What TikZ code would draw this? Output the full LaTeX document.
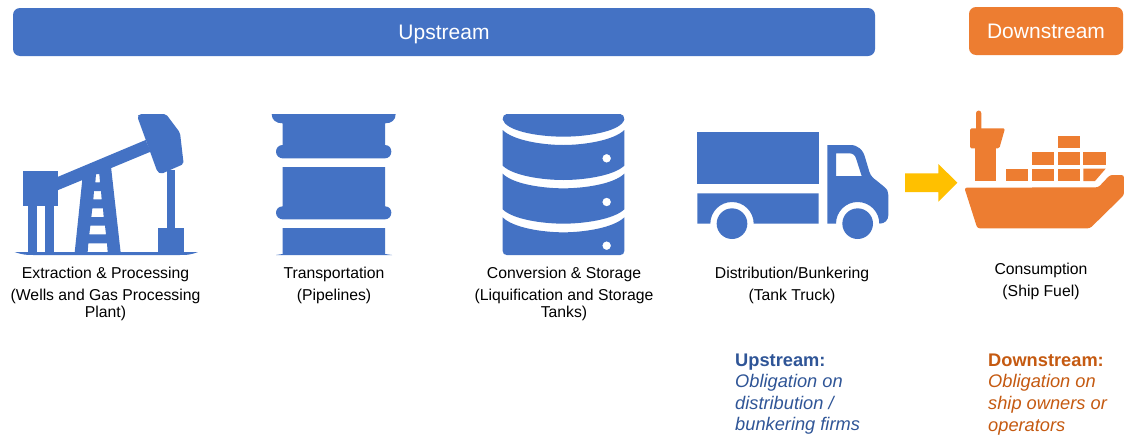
\documentclass[tikz,border=0pt]{standalone}
\usepackage{fontspec}
\setmainfont{Liberation Sans}
\definecolor{iblue}{HTML}{4472C4}
\definecolor{iorange}{HTML}{ED7D31}
\definecolor{iyellow}{HTML}{FFC000}
\definecolor{dblue}{HTML}{2F5597}
\definecolor{dorange}{HTML}{C55A11}
\tikzset{
  header/.style={rounded corners=7pt,text=white,font=\fontsize{21}{24}\selectfont,inner sep=0pt},
  lbl/.style={anchor=base,text=black,font=\fontsize{15.75}{18}\selectfont,inner sep=0pt},
  note/.style={anchor=base west,font=\fontsize{18.25}{21}\selectfont\itshape,inner sep=0pt},
  notehead/.style={anchor=base west,font=\fontsize{18.25}{21}\selectfont\bfseries,inner sep=0pt},
  icon/.style={x=0.33333pt,y=-0.33333pt},
}
\begin{document}
\begin{tikzpicture}[x=1pt,y=-1pt]
\useasboundingbox (0,0) rectangle (1124,434);
\fill[white] (0,0) rectangle (1124,434);
% headers
\path[header,fill=iblue] (13,8) rectangle (875,56);
\node[text=white,font=\fontsize{21}{24}\selectfont,inner sep=0pt,anchor=base] (up) at (444,39) {Upstream};
\path[header,fill=iorange] (969,7) rectangle (1123,55);
\node[text=white,font=\fontsize{21}{24}\selectfont,inner sep=0pt,anchor=base] (down) at (1046,38) {Downstream};
% pump jack
\begin{scope}[shift={(0,100)},icon]
\fill[iblue,rounded corners=2pt] (412,50) -- (418,42) -- (498,42) -- (540,98) -- (551,192) -- (483,222) -- (472,215) -- cycle;
\fill[iblue] (170,232) -- (437,120) -- (452,155) -- (170,272) -- cycle;
\fill[iblue] (70,214) rectangle (175,318);
\fill[iblue] (84,318) rectangle (110,458);
\fill[iblue] (136,318) rectangle (162,458);
\fill[iblue,even odd rule] (247,238) -- (333,200) -- (362,458) -- (224,458) -- cycle
  (288,222) -- (298,222) -- (300,247) -- (286,247) -- cycle
  (282,273) -- (303,273) -- (305,298) -- (280,298) -- cycle
  (277,325) -- (309,325) -- (311,351) -- (274,351) -- cycle
  (271,377) -- (315,377) -- (318,403) -- (268,403) -- cycle
  (265,430) -- (321,430) -- (323,456) -- (263,456) -- cycle;
\fill[iblue] (500,210) rectangle (525,385);
\fill[iblue] (474,384) rectangle (552,458);
\fill[iblue] (44,456) -- (594,456) .. controls (570,465) and (560,465) .. (540,465) -- (100,465) .. controls (80,465) and (70,465) .. (44,456) -- cycle;
\end{scope}
% barrel
\begin{scope}[shift={(250,100)},icon]
\fill[iblue] (65,42) -- (437,42) .. controls (437,60) and (425,70) .. (405,70) -- (405,135) .. controls (418,135) and (424,145) .. (424,155) .. controls (424,167) and (415,175) .. (405,175) -- (98,175) .. controls (88,175) and (78,167) .. (78,155) .. controls (78,145) and (85,135) .. (98,135) -- (98,70) .. controls (78,70) and (65,60) .. (65,42) -- cycle;
\fill[iblue] (98,201) -- (405,201) -- (405,319) .. controls (418,319) and (424,329) .. (424,338) .. controls (424,350) and (415,358) .. (405,358) -- (98,358) .. controls (88,358) and (78,350) .. (78,338) .. controls (78,329) and (85,319) .. (98,319) -- cycle;
\fill[iblue] (98,384) -- (405,384) -- (405,462) -- (426,465) -- (78,465) -- (98,462) -- cycle;
\end{scope}
% database
\begin{scope}[shift={(250,100)},icon]
\fill[iblue] (770,42) -- (1111,42) .. controls (1119,42) and (1123,50) .. (1123,58) .. controls (1115,92) and (1020,110) .. (940,110) .. controls (860,110) and (766,92) .. (758,58) .. controls (758,50) and (762,42) .. (770,42) -- cycle;
\fill[iblue,even odd rule] (758,90) .. controls (790,122) and (880,135) .. (940,135) .. controls (1000,135) and (1090,122) .. (1123,90) -- (1123,197) .. controls (1090,228) and (1000,240) .. (940,240) .. controls (880,240) and (790,228) .. (758,197) -- cycle
  (1070,175) circle[radius=13];
\fill[iblue,even odd rule] (758,221) .. controls (790,253) and (880,265) .. (940,265) .. controls (1000,265) and (1090,253) .. (1123,221) -- (1123,328) .. controls (1090,359) and (1000,371) .. (940,371) .. controls (880,371) and (790,359) .. (758,328) -- cycle
  (1070,306) circle[radius=13];
\fill[iblue,even odd rule] (758,352) .. controls (790,384) and (880,397) .. (940,397) .. controls (1000,397) and (1090,384) .. (1123,352) -- (1123,453) .. controls (1123,460) and (1118,465) .. (1111,465) -- (770,465) .. controls (763,465) and (758,460) .. (758,453) -- cycle
  (1070,437) circle[radius=13];
\end{scope}
% truck
\begin{scope}[shift={(680,100)},icon]
\fill[iblue] (52,97) rectangle (416,253);
\fill[iblue] (52,280) -- (416,280) -- (416,371) -- (221,371) arc[start angle=0,end angle=-180,x radius=65,y radius=65] -- (52,371) -- cycle;
\fill[iblue,even odd rule] (442,135) -- (510,135) .. controls (535,135) and (550,150) .. (556,175) -- (568,215) .. controls (572,228) and (580,235) .. (590,242) -- (612,260) .. controls (622,268) and (625,275) .. (625,285) -- (625,345) .. controls (625,360) and (615,371) .. (598,371) arc[start angle=0,end angle=-180,x radius=65,y radius=65] -- (442,371) -- cycle
 (468,160) -- (508,160) .. controls (518,160) and (525,165) .. (528,175) -- (545,228) -- (468,228) -- cycle;
\fill[iblue] (156,371) circle[radius=46];
\fill[iblue] (533,371) circle[radius=46];
% arrow
\fill[iyellow] (675,220) -- (775,220) -- (775,192) -- (832,248) -- (775,305) -- (775,276) -- (675,276) -- cycle;
% ship
\fill[iorange] (888,40) .. controls (888,29) and (904,29) .. (904,40) -- (904,90) -- (888,90) -- cycle;
\fill[iorange,rounded corners=1.5pt] (870,85) -- (975,85) -- (958,145) -- (870,145) -- cycle;
\fill[iorange] (885,140) rectangle (947,243);
\fill[iorange] (978,206) rectangle (1045,243);
\fill[iorange] (1056,206) rectangle (1122,243);
\fill[iorange] (1133,206) rectangle (1199,243);
\fill[iorange] (1210,206) -- (1277,206) -- (1245,243) -- (1210,243) -- cycle;
\fill[iorange] (1056,157) rectangle (1122,194);
\fill[iorange] (1133,157) rectangle (1199,194);
\fill[iorange] (1210,157) rectangle (1277,194);
\fill[iorange] (1133,108) rectangle (1199,145);
\fill[iorange,rounded corners=2.5pt] (853,263) -- (1255,262) -- (1290,225) -- (1332,225) -- (1332,285) -- (1230,385) -- (892,385) -- cycle;
\end{scope}
% labels
\node[lbl] (a1) at (105.5,278) {Extraction \& Processing};
\node[lbl] (a2) at (105.5,300) {(Wells and Gas Processing};
\node[lbl] (a3) at (105.5,317) {Plant)};
\node[lbl] (b1) at (334,278) {Transportation};
\node[lbl] (b2) at (334,300) {(Pipelines)};
\node[lbl] (c1) at (564,278) {Conversion \& Storage};
\node[lbl] (c2) at (564,300) {(Liquification and Storage};
\node[lbl] (c3) at (564,317) {Tanks)};
\node[lbl] (d1) at (792,278) {Distribution/Bunkering};
\node[lbl] (d2) at (792,300) {(Tank Truck)};
\node[lbl] (e1) at (1041,274) {Consumption};
\node[lbl] (e2) at (1041,296) {(Ship Fuel)};
% notes
\node[notehead,text=dblue] (n1) at (735,366) {Upstream:};
\node[note,text=dblue] (n2) at (735,387) {Obligation on};
\node[note,text=dblue] (n3) at (735,409) {distribution /};
\node[note,text=dblue] (n4) at (735,430) {bunkering firms};
\node[notehead,text=dorange] (m1) at (988,366) {Downstream:};
\node[note,text=dorange] (m2) at (988,387) {Obligation on};
\node[note,text=dorange] (m3) at (988,409) {ship owners or};
\node[note,text=dorange] (m4) at (988,431) {operators};
\end{tikzpicture}
\end{document}
